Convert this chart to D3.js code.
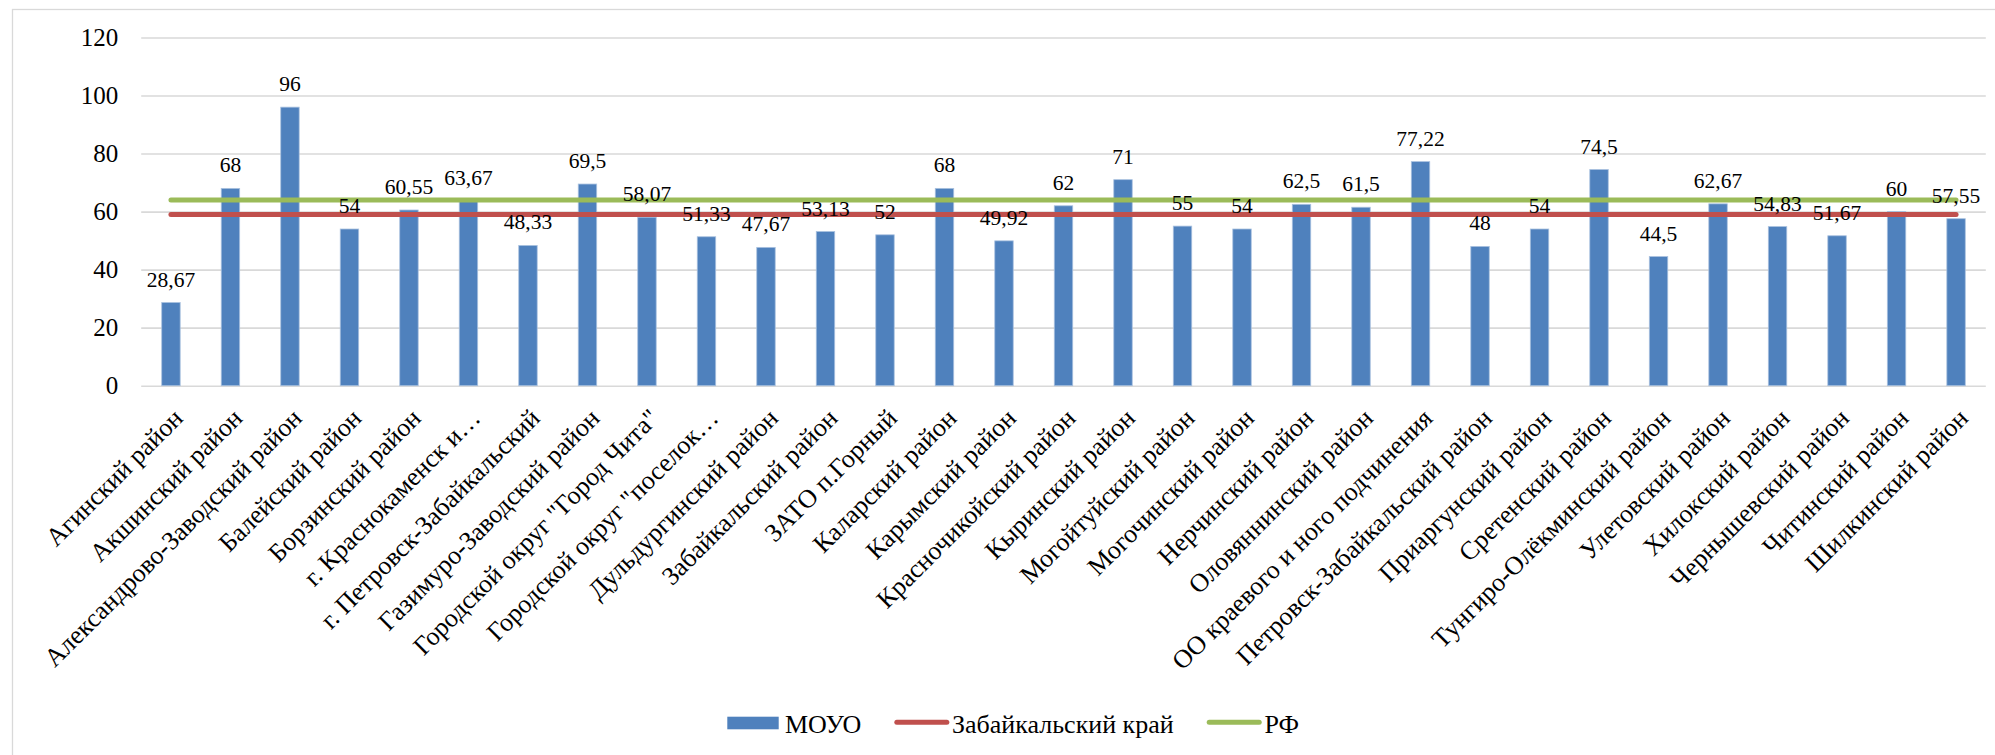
<!DOCTYPE html>
<html>
<head>
<meta charset="utf-8">
<script src="https://cdn.jsdelivr.net/npm/d3@7"></script>
<style>
  html, body { margin: 0; padding: 0; background: #fff; }
  svg { display: block; }
  svg text { font-family: "Liberation Serif", "Times New Roman", "DejaVu Serif", serif !important; fill: #000; }
</style>
</head>
<body>
<svg id="chart" width="1995" height="755"></svg>
<script>
const categories = [
  "Агинский район", "Акшинский район", "Александрово-Заводский район", "Балейский район",
  "Борзинский район", "г. Краснокаменск и…", "г. Петровск-Забайкальский", "Газимуро-Заводский район",
  "Городской округ \"Город Чита\"", "Городской округ \"поселок…", "Дульдургинский район",
  "Забайкальский район", "ЗАТО п.Горный", "Каларский район", "Карымский район",
  "Красночикойский район", "Кыринский район", "Могойтуйский район", "Могочинский район",
  "Нерчинский район", "Оловяннинский район", "ОО краевого и ного подчинения",
  "Петровск-Забайкальский район", "Приаргунский район", "Сретенский район",
  "Тунгиро-Олёкминский район", "Улетовский район", "Хилокский район", "Чернышевский район",
  "Читинский район", "Шилкинский район"
];
const moyoValues = [28.67, 68, 96, 54, 60.55, 63.67, 48.33, 69.5, 58.07, 51.33, 47.67, 53.13, 52, 68,
  49.92, 62, 71, 55, 54, 62.5, 61.5, 77.22, 48, 54, 74.5, 44.5, 62.67, 54.83, 51.67, 60, 57.55];
const krayValues = categories.map(() => 59);
const rfValues = categories.map(() => 64);
const yTicks = [0, 20, 40, 60, 80, 100, 120];
const seriesNames = ["МОУО", "Забайкальский край", "РФ"];
const seriesColors = ["#4F81BD", "#C0504D", "#9BBB59"];

const FONT = "'Liberation Serif', 'Times New Roman', 'DejaVu Serif', serif";
const svg = d3.select("#chart").attr("font-family", FONT);
const margin = { left: 141.2, right: 1985.8, top: 37.5, bottom: 385.7 };

// outer chart border (extends past image edge)
svg.append("rect")
  .attr("x", 12.5).attr("y", 9.5)
  .attr("width", 2100).attr("height", 900)
  .attr("fill", "none").attr("stroke", "#d9d9d9").attr("stroke-width", 1.3);

const x = d3.scaleBand()
  .domain(categories)
  .range([margin.left, margin.right])
  .paddingInner(0.69)
  .paddingOuter(0.345);

const y = d3.scaleLinear().domain([0, 120]).range([margin.bottom, margin.top]);

const fmt = v => String(v).replace(".", ",");

// y axis with gridlines
const yAxis = svg.append("g")
  .attr("transform", `translate(${margin.left},0)`)
  .call(d3.axisLeft(y).tickValues(yTicks).tickSize(-(margin.right - margin.left)).tickPadding(23).tickFormat(d => d));
yAxis.attr("font-family", FONT);
yAxis.select(".domain").remove();
yAxis.selectAll(".tick line").attr("stroke", "#d9d9d9").attr("stroke-width", 1.6);
yAxis.selectAll(".tick text").attr("font-size", 25).style("font-family", FONT).attr("fill", "#000");

// bars
svg.append("g").selectAll("rect")
  .data(moyoValues)
  .join("rect")
  .attr("x", (d, i) => x(categories[i]))
  .attr("width", x.bandwidth())
  .attr("y", d => y(d))
  .attr("height", d => y(0) - y(d))
  .attr("fill", seriesColors[0])
  .attr("stroke", "#a9c1df")
  .attr("stroke-width", 0.8);

// lines
const line = d3.line()
  .x((d, i) => x(categories[i]) + x.bandwidth() / 2)
  .y(d => y(d));

[[krayValues, seriesColors[1]], [rfValues, seriesColors[2]]].forEach(([vals, col]) => {
  svg.append("path")
    .datum(vals)
    .attr("d", line)
    .attr("fill", "none")
    .attr("stroke", col)
    .attr("stroke-width", 5)
    .attr("stroke-linecap", "round")
    .attr("stroke-linejoin", "round");
});

// data labels
svg.append("g").selectAll("text")
  .data(moyoValues)
  .join("text")
  .attr("x", (d, i) => x(categories[i]) + x.bandwidth() / 2)
  .attr("y", d => y(d) - 16)
  .attr("text-anchor", "middle")
  .attr("font-size", 21.5)
  .style("font-family", FONT)
  .text(d => fmt(d));

// x axis labels
const xAxis = svg.append("g")
  .attr("transform", `translate(0,${margin.bottom})`)
  .call(d3.axisBottom(x).tickSize(0).tickPadding(0));
xAxis.attr("font-family", FONT);
xAxis.select(".domain").remove();
xAxis.selectAll(".tick text")
  .attr("font-size", 26)
  .style("font-family", FONT)
  .attr("fill", "#000")
  .attr("text-anchor", "end")
  .attr("dy", null)
  .attr("y", 0)
  .attr("transform", "translate(13.5,34) rotate(-45)");

// legend
const legend = svg.append("g");
let lx = 727.3;
const ly = 723;
seriesNames.forEach((name, i) => {
  if (i === 0) {
    legend.append("rect").attr("x", lx).attr("y", ly - 6.3).attr("width", 51.4).attr("height", 12.6)
      .attr("fill", seriesColors[0]);
  } else {
    legend.append("line").attr("x1", lx + 2.5).attr("x2", lx + 52.5).attr("y1", ly - 0.7).attr("y2", ly - 0.7)
      .attr("stroke", seriesColors[i]).attr("stroke-width", 5).attr("stroke-linecap", "round");
  }
  const t = legend.append("text").attr("x", lx + 57.7).attr("y", ly + 10.3)
    .attr("font-size", 26).style("font-family", FONT).text(name);
  const w = t.node().getComputedTextLength();
  lx = lx + 57.7 + w + 33;
});
</script>
</body>
</html>
